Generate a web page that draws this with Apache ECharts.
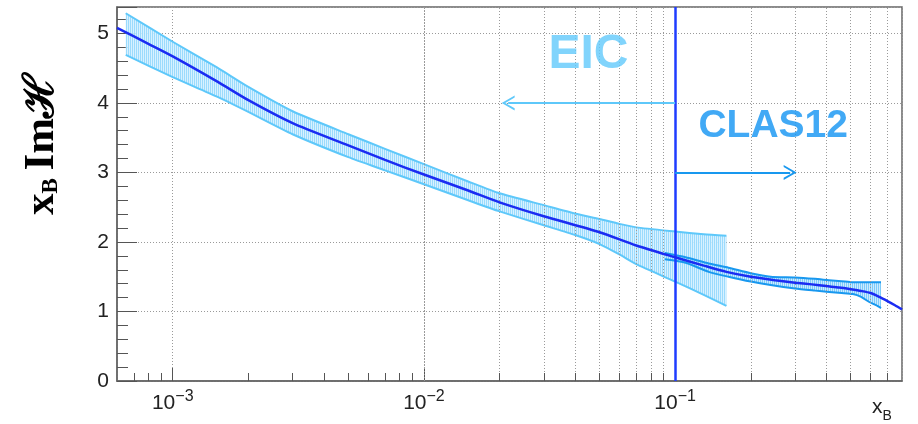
<!DOCTYPE html>
<html><head><meta charset="utf-8">
<script src="https://cdn.jsdelivr.net/npm/echarts@6/dist/echarts.min.js"></script>
<style>html,body{margin:0;padding:0;background:#fff}#c{width:918px;height:424px}</style>
</head><body><div id="c"></div>
<script>
// ---- data ----
const centralX = [6e-4, 8e-4, 1e-3, 1.5e-3, 2e-3, 3e-3, 5e-3, 7e-3, 1e-2, 1.5e-2, 2e-2, 3e-2, 5e-2, 7e-2, 0.1, 0.13, 0.16, 0.2, 0.25, 0.3, 0.35, 0.4, 0.45, 0.5, 0.55, 0.6, 0.65, 0.7, 0.75, 0.8];
const centralY = [5.08, 4.85, 4.67, 4.31, 4.04, 3.71, 3.39, 3.18, 2.97, 2.74, 2.57, 2.37, 2.14, 1.95, 1.78, 1.66, 1.57, 1.50, 1.45, 1.415, 1.39, 1.365, 1.345, 1.32, 1.295, 1.265, 1.21, 1.15, 1.09, 1.03];

const eicX    = [6.5e-4, 1e-3, 1.5e-3, 2e-3, 3e-3, 5e-3, 7e-3, 1e-2, 1.5e-2, 2e-2, 3e-2, 4e-2, 5e-2, 6e-2, 7e-2, 0.1, 0.13, 0.16];
const eicLow  = [4.69, 4.37, 4.09, 3.87, 3.55, 3.22, 3.03, 2.83, 2.60, 2.44, 2.24, 2.10, 1.97, 1.82, 1.68, 1.43, 1.24, 1.08];
const eicHigh = [5.29, 4.88, 4.51, 4.23, 3.88, 3.55, 3.34, 3.12, 2.87, 2.70, 2.53, 2.41, 2.33, 2.26, 2.21, 2.15, 2.11, 2.09];

const clasX    = [0.091, 0.11, 0.136, 0.163, 0.2, 0.24, 0.3, 0.36, 0.41, 0.46, 0.51, 0.55, 0.59, 0.63, 0.66];
const clasLow  = [1.75, 1.70, 1.57, 1.50, 1.43, 1.38, 1.33, 1.30, 1.28, 1.265, 1.25, 1.21, 1.14, 1.09, 1.05];
const clasHigh = [1.84, 1.78, 1.69, 1.63, 1.55, 1.50, 1.49, 1.47, 1.45, 1.435, 1.42, 1.42, 1.42, 1.42, 1.42];

const xMajorExponents = [-3, -2, -1];
const xMinorTicks = [7e-4, 8e-4, 9e-4, 2e-3, 3e-3, 4e-3, 5e-3, 6e-3, 7e-3, 8e-3, 9e-3,
                     2e-2, 3e-2, 4e-2, 5e-2, 6e-2, 7e-2, 8e-2, 9e-2, 0.2, 0.3, 0.4, 0.5, 0.6, 0.7];
const yTickLabels = ['0', '1', '2', '3', '4', '5'];
const dividerX = 0.1;
const eicArrow = { from: 0.1, to: 0.02164, y: 4 };
const clasArrow = { from: 0.1, to: 0.287, y: 3 };
const annotations = [
  { text: 'EIC', x: 0.0452, y: 4.70 },
  { text: 'CLAS12', x: 0.2457, y: 3.67 }
];

// ---- helpers ----
function zip(a, b) { return a.map((v, i) => [v, b[i]]); }
function zip3(a, b, c) { return a.map((v, i) => [v, b[i], c[i]]); }
function hatch(bg, line) {
  const c = document.createElement('canvas'); c.width = 2; c.height = 4;
  const g = c.getContext('2d');
  g.fillStyle = bg; g.fillRect(0, 0, 2, 4);
  g.fillStyle = line; g.fillRect(0, 0, 1, 4);
  return c;
}
const chevron = 'path://M0,10 L5,0 L10,10 L8.6,10 L5,2.8 L1.4,10 Z';
const SANS = "'Liberation Sans', Arial, Helvetica, sans-serif";
const SERIF = "'Liberation Serif', 'DejaVu Serif', 'Times New Roman', serif";

const eicEdge = '#5ec8fa';
const clasEdge = '#1898ef';
const gridDot = { color: '#9a9a9a', width: 1, type: [1, 2] };

function bandSeries(name, rows, edge, fillImg, z) {
  return {
    name: name, type: 'custom', z: z, silent: true, clip: true,
    data: rows,
    encode: { x: 0, y: [1, 2] },
    renderItem: function (params, api) {
      if (params.dataIndex !== 0) return null;
      const up = rows.map(r => api.coord([r[0], r[2]]));
      const dn = rows.map(r => api.coord([r[0], r[1]]));
      return {
        type: 'group',
        children: [
          { type: 'polygon', shape: { points: up.concat(dn.slice().reverse()) },
            style: { fill: { image: fillImg, repeat: 'repeat' }, stroke: null } },
          { type: 'polyline', shape: { points: up, smooth: 0.2 }, style: { stroke: edge, lineWidth: 2, fill: null } },
          { type: 'polyline', shape: { points: dn, smooth: 0.2 }, style: { stroke: edge, lineWidth: 2, fill: null } }
        ]
      };
    }
  };
}

const chart = echarts.init(document.getElementById('c'), null, { renderer: 'canvas' });

const markData = [];
xMinorTicks.forEach(v => {
  markData.push({ xAxis: v, lineStyle: gridDot });
  markData.push([{ coord: [v, 0] }, { coord: [v, 0.115] }]);
});
markData.push({ xAxis: dividerX, lineStyle: { color: '#1f3cff', width: 2.5, type: 'solid' } });
markData.push([
  { coord: [eicArrow.from, eicArrow.y], symbol: 'none', lineStyle: { color: eicEdge, width: 2, type: 'solid' }, itemStyle: { color: eicEdge } },
  { coord: [eicArrow.to, eicArrow.y], symbol: chevron, symbolSize: [15, 13], itemStyle: { color: eicEdge } }
]);
markData.push([
  { coord: [clasArrow.from, clasArrow.y], symbol: 'none', lineStyle: { color: clasEdge, width: 2, type: 'solid' }, itemStyle: { color: clasEdge } },
  { coord: [clasArrow.to, clasArrow.y], symbol: chevron, symbolSize: [15, 13], itemStyle: { color: clasEdge } }
]);

chart.setOption({
  animation: false,
  backgroundColor: '#fff',
  grid: { left: 117, right: 16, top: 7, bottom: 43, show: true, borderColor: '#666', borderWidth: 1.5, outerBoundsMode: 'none', containLabel: false },
  xAxis: {
    type: 'log', logBase: 10, min: 6e-4, max: 0.8,
    name: '{a|x}{b|B}', nameLocation: 'end', nameGap: -30,
    nameTextStyle: {
      align: 'left', verticalAlign: 'top', padding: [17, 0, 0, 0],
      rich: {
        a: { fontFamily: SANS, fontSize: 21, color: '#222', verticalAlign: 'bottom', lineHeight: 20 },
        b: { fontFamily: SANS, fontSize: 14, color: '#222', verticalAlign: 'bottom', lineHeight: 14, padding: [0, 0, -5, 0] }
      }
    },
    axisLine: { show: true, lineStyle: { color: '#666', width: 1.5 } },
    axisTick: { show: true, inside: true, length: 13, lineStyle: { color: '#555', width: 1 } },
    splitLine: { show: true, lineStyle: gridDot },
    axisLabel: {
      show: true, margin: 8, showMinLabel: false, showMaxLabel: false,
      formatter: function (v) {
        const e = Math.log10(v), r = Math.round(e);
        if (Math.abs(e - r) > 1e-6 || xMajorExponents.indexOf(r) < 0) return '';
        return '{b|10}{s|\u2212' + Math.abs(r) + '}';
      },
      rich: {
        b: { fontFamily: SANS, fontSize: 21, color: '#222', verticalAlign: 'bottom', lineHeight: 25 },
        s: { fontFamily: SANS, fontSize: 16, color: '#222', verticalAlign: 'top', lineHeight: 16 }
      }
    }
  },
  yAxis: {
    type: 'value', min: 0, max: 5.38, interval: 1,
    name: '{x|x}{s|B}{sp| }{i|Im}{h|\u210B}',
    nameLocation: 'middle', nameRotate: 90, nameGap: 54,
    nameTextStyle: {
      padding: [0, 0, 0, 99],
      rich: {
        x: { fontFamily: SERIF, fontSize: 43, fontWeight: 'bold', color: '#000', verticalAlign: 'bottom', lineHeight: 44 },
        s: { fontFamily: SERIF, fontSize: 23, fontWeight: 'bold', color: '#000', verticalAlign: 'bottom', lineHeight: 23 },
        sp: { fontFamily: SERIF, fontSize: 30, verticalAlign: 'bottom', lineHeight: 30 },
        i: { fontFamily: SERIF, fontSize: 43, fontWeight: 'bold', color: '#000', verticalAlign: 'bottom', lineHeight: 44 },
        h: { fontFamily: "'DejaVu Serif', " + SERIF, fontSize: 42, fontWeight: 'bold', color: '#000', verticalAlign: 'bottom', lineHeight: 44 }
      }
    },
    axisLine: { show: true, lineStyle: { color: '#666', width: 1.5 } },
    axisTick: { show: true, inside: true, length: 20, lineStyle: { color: '#555', width: 1 } },
    minorTick: { show: true, splitNumber: 5, length: 11, lineStyle: { color: '#555', width: 1 } },
    splitLine: { show: true, lineStyle: gridDot },
    axisLabel: {
      margin: 8, showMaxLabel: false, fontFamily: SANS, fontSize: 21, color: '#222',
      formatter: function (v) { const i = Math.round(v); return Math.abs(v - i) < 1e-6 && yTickLabels[i] !== undefined ? yTickLabels[i] : ''; }
    }
  },
  series: [
    bandSeries('EIC band', zip3(eicX, eicLow, eicHigh), eicEdge, hatch('rgba(212,240,255,0.9)', 'rgba(135,212,252,0.75)'), 2),
    bandSeries('CLAS12 band', zip3(clasX, clasLow, clasHigh), clasEdge, hatch('rgba(195,232,255,0.85)', 'rgba(95,190,248,0.7)'), 3),
    {
      name: 'central', type: 'line', data: zip(centralX, centralY), symbol: 'none', z: 6, smooth: 0.25,
      lineStyle: { color: '#1b2cf2', width: 2.5 },
      markLine: { silent: true, symbol: ['none', 'none'], label: { show: false },
        lineStyle: { color: '#555', width: 1, type: 'solid' }, data: markData }
    },
    {
      name: 'labels', type: 'scatter', symbolSize: 0, z: 7, silent: true,
      data: [
        { value: [annotations[0].x, annotations[0].y], name: annotations[0].text,
          label: { show: true, position: 'inside', formatter: '{b}', color: '#62c9fb', fontSize: 48, fontWeight: 'bold', fontFamily: SANS } },
        { value: [annotations[1].x, annotations[1].y], name: annotations[1].text,
          label: { show: true, position: 'inside', formatter: '{b}', color: '#1294f2', fontSize: 39, fontWeight: 'bold', fontFamily: SANS } }
      ]
    }
  ]
});
</script></body></html>
